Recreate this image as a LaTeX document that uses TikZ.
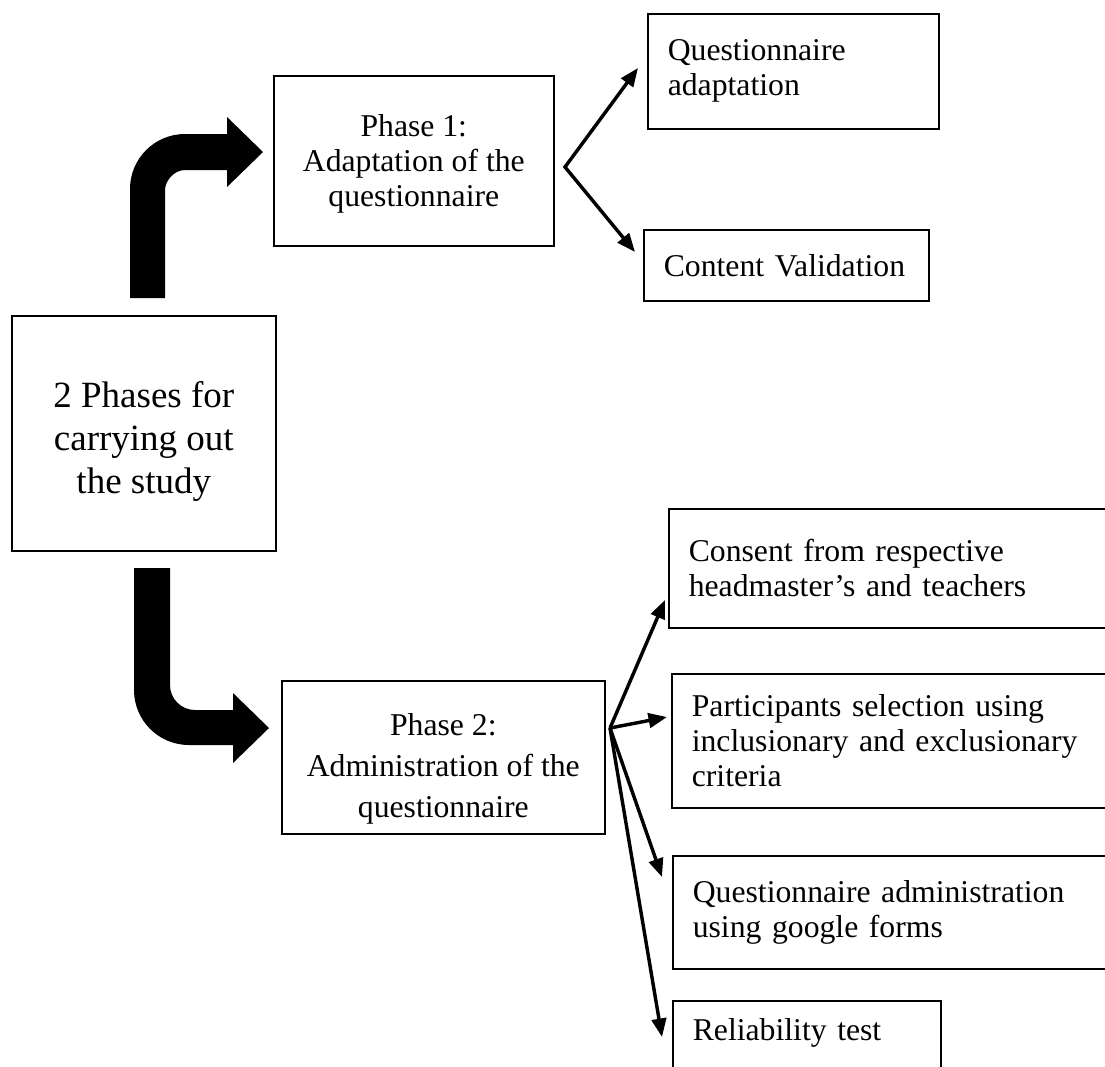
\documentclass[tikz,border=0pt]{standalone}
\usepackage{fontspec}
\setmainfont{Liberation Serif}
\usetikzlibrary{arrows.meta}
\newcommand{\pxu}{0.3785pt}
\tikzset{
  every picture/.style={line width=0.6pt},
  box/.style={draw=black, rectangle, inner sep=0pt, anchor=north west},
  ctrbox/.style={box, align=center, font=\fontsize{12}{13.3}\selectfont},
  txtbox/.style={box, align=left, inner xsep=20*\pxu, font=\fontsize{12}{13.3}\selectfont},
  arrow/.style={-{Triangle[length=7pt, width=5.5pt]}, line width=1.3pt},
  fork/.style={{Triangle[length=7pt, width=5.5pt]}-{Triangle[length=7pt, width=5.5pt]}, line width=1.3pt},
}

\begin{document}
\begin{tikzpicture}[x=0.3785pt, y=-0.3785pt]
  \useasboundingbox (0,0) rectangle (1105,1066);
  \clip (0,0) rectangle (1105,1066);
  % root
  \node[ctrbox, font=\fontsize{14}{16.3}\selectfont, minimum width=264*\pxu, minimum height=235*\pxu] (study) at (11,315) {\rule{0pt}{16pt}2 Phases for\\carrying out\\the study};
  % bent arrows
  \fill (130,298) -- (130,189) .. controls (130,158.6) and (154.6,134) .. (185,134) -- (227,134) -- (227,117) -- (263,152)
        -- (227,187) -- (227,170) -- (185,170) .. controls (174,170) and (165,181) .. (165,190) -- (165,298) -- cycle;
  \fill (134,568) -- (134,690) .. controls (134,720.4) and (158.6,745) .. (189,745) -- (233,745) -- (233,763) -- (269,728)
        -- (233,693) -- (233,710) -- (195,710) .. controls (181.2,710) and (170,698.8) .. (170,685) -- (170,568) -- cycle;
  % phase 1
  \node[ctrbox, minimum width=280*\pxu, minimum height=170*\pxu] (ph1) at (273,75) {\rule{0pt}{10.5pt}Phase 1:\\Adaptation of the\\questionnaire};
  \node[txtbox, text width=251*\pxu, minimum height=115*\pxu] (qa) at (647,13) {Questionnaire\\adaptation};
  \node[txtbox, text width=245*\pxu, minimum height=71*\pxu] (cv) at (643,229) {Content Validation};
  \coordinate (f1) at (565,167);
  \coordinate (t1) at (638,68);
  \coordinate (t2) at (635,252);
  \draw[fork] (t1) -- (f1) -- (t2);
  % phase 2
  \node[ctrbox, font=\fontsize{12}{15.5}\selectfont, minimum width=323*\pxu, minimum height=153*\pxu] (ph2) at (281,680) {\rule{0pt}{17.4pt}Phase 2:\\Administration of the\\questionnaire};
  \node[txtbox, text width=460*\pxu, minimum height=119*\pxu] (cons) at (668,508) {Consent from respective\\headmaster's and teachers};
  \node[txtbox, text width=460*\pxu, minimum height=134*\pxu] (part) at (671,673) {Participants selection using\\inclusionary and exclusionary\\criteria};
  \node[txtbox, text width=460*\pxu, minimum height=113*\pxu] (admin) at (672,855) {Questionnaire administration\\using google forms};
  \node[txtbox, text width=228*\pxu, text height=40*\pxu, text depth=80*\pxu] (rel) at (672,1000) {Reliability test};
  \coordinate (f2) at (610,728);
  \foreach \x/\y [count=\i] in {665/600, 667/717, 662/877, 662/1037} {
    \coordinate (s\i) at (\x,\y);
    \draw[arrow] (f2) -- (s\i);
  }
\end{tikzpicture}
\end{document}
